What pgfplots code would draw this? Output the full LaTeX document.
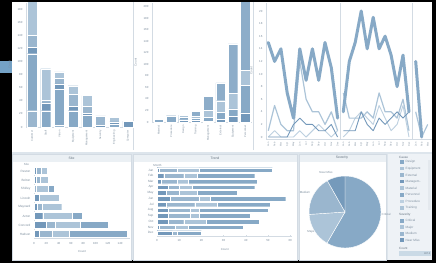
\documentclass[border=0pt]{standalone}
\usepackage{fontspec}
\setmainfont{Liberation Sans}
\usepackage{pgfplots}
\pgfplotsset{compat=1.18}

\definecolor{cDark}{HTML}{7398BA}
\definecolor{cMid}{HTML}{87A9C6}
\definecolor{cMidB}{HTML}{8DADC9}
\definecolor{cMidL}{HTML}{9AB6CE}
\definecolor{cLight}{HTML}{ACC4D8}
\definecolor{cPale}{HTML}{BDD0E0}
\definecolor{txt}{HTML}{7D8E9E}
\definecolor{axc}{HTML}{D3DBE3}
\definecolor{bgb}{HTML}{DDE5EC}
\definecolor{ttl}{HTML}{EBF0F4}
\definecolor{tab}{HTML}{74A2C6}
\definecolor{lgbg}{HTML}{EEF2F6}

\newcommand\tk{\fontsize{2.9}{3.3}\selectfont}
\newcommand\lgf{\fontsize{3.1}{3.5}\selectfont}
\newcommand\lb{\fontsize{3.4}{4}\selectfont}

\pgfplotsset{dash/.style={scale only axis, axis lines*=left,
  axis line style={draw=axc,line width=0.4pt},
  every tick/.style={draw=axc,line width=0.3pt}, major tick length=1.2pt,
  tick label style={font=\tk,text=txt},
  /pgf/number format/assume math mode=true,
  label style={font=\lb,text=txt}},
  sb/.style={draw=white,line width=0.2pt}}

\begin{document}
\begin{tikzpicture}
\useasboundingbox (0,0) rectangle (436pt,263pt);
\pgfmathsetmacro\tot{300+80+92+42}
\pgfmathsetmacro\aA{90-300/\tot*360}
\pgfmathsetmacro\aB{\aA-80/\tot*360}
\pgfmathsetmacro\aC{\aB-92/\tot*360}
\begin{scope}[x=1pt,y=1pt]
\fill[black] (0,0) rectangle (436,263);
\fill[white] (12,111) rectangle (431.5,260.5);
\fill[bgb] (12,3) rectangle (431.5,111);
\fill[tab] (0,190) rectangle (12,202);
\draw[axc,line width=0.8pt] (133.5,113) -- (133.5,260.5);
\draw[axc,line width=0.8pt] (253.5,113) -- (253.5,260.5);
% bottom panels
\foreach \a/\b in {12/131,133/297,299/386}{
  \fill[white] (\a,3) rectangle (\b,109);
  \fill[ttl] (\a,101) rectangle (\b,109);
  \draw[axc,line width=0.3pt] (\a,3) rectangle (\b,109);
}
\fill[lgbg] (388,3) rectangle (431.5,109);
\node[font=\lb,text=txt!80!black] at (71.5,105) {Site};
\node[font=\lb,text=txt!80!black] at (215,105) {Trend};
\node[font=\lb,text=txt!80!black] at (342,105) {Severity};
\node[font=\tk,text=txt,anchor=east] at (32.5,99) {Site};
\node[font=\tk,text=txt] at (157.5,98) {Month};
% legend
\node[font=\lgf,text=txt!80!black,anchor=west,inner sep=0] at (399,106) {Cause};
\foreach \n/\c [count=\i from 0] in {Design/cMid,Equipment/cLight,External/cMidL,Managem../cDark,Material/cLight,Personnel/cMid,Procedure/cPale,Training/cLight}{
  \fill[\c] (400,{101.3-6.6*\i-1.8}) rectangle (403.5,{101.3-6.6*\i+1.8});
  \node[font=\lgf,text=txt,anchor=west,inner sep=0] at (405.5,{101.3-6.6*\i}) {\n};
}
\fill[axc!60!white] (427.5,53) rectangle (430.5,103);
\node[font=\lgf,text=txt!80!black,anchor=west,inner sep=0] at (399,48) {Severity};
\foreach \n/\c [count=\i from 0] in {Critical/cMid,Major/cLight,Medium/cMidL,Near Miss/cDark}{
  \fill[\c] (400,{42.3-6.5*\i-1.8}) rectangle (403.5,{42.3-6.5*\i+1.8});
  \node[font=\lgf,text=txt,anchor=west,inner sep=0] at (405.5,{42.3-6.5*\i}) {\n};
}
\node[font=\lgf,text=txt!80!black,anchor=west,inner sep=0] at (399,15) {Count};
\fill[cPale!80!white] (399,7) rectangle (431,12);
\node[font=\fontsize{2.5}{2.8}\selectfont,text=txt!80!black,anchor=east,inner sep=0] at (430.5,9.5) {337.0};
% pie labels
\node[font=\tk,text=txt,anchor=west,inner sep=0] at (381.5,49) {Critical};
\node[font=\tk,text=txt] at (311,31) {Major};
\node[font=\tk,text=txt] at (305,71) {Medium};
\node[font=\tk,text=txt] at (326,91) {Near Miss};
\end{scope}

% ---------- Panel 1 ----------
\begin{axis}[dash, at={(26pt,136pt)}, anchor=south west, width=108pt, height=124.5pt,
  ybar stacked, bar width=10pt, xmin=-0.44, xmax=7.44, ymin=0, ymax=190,
  ytick={0,20,...,180}, xtick={0,...,7}, xtick style={draw=none},
  xticklabels={Customer,Staff,Vision,Equipment,Management,Security,Engineering,Computer},
  xticklabel style={rotate=90,anchor=east,font=\fontsize{2.6}{3}\selectfont},
  ylabel={Count}, ylabel style={font=\tk}]
\addplot[fill=cMidL,sb] coordinates {(0,25)(1,0)(2,3)(3,0)(4,0)(5,0)(6,0)(7,0)};
\addplot[fill=cMid,sb] coordinates {(0,87)(1,25)(2,55)(3,25)(4,18)(5,0)(6,4)(7,0)};
\addplot[fill=cDark,sb] coordinates {(0,10)(1,12)(2,8)(3,7)(4,3)(5,3)(6,4)(7,9)};
\addplot[fill=cMidL,sb] coordinates {(0,18)(1,4)(2,8)(3,18)(4,11)(5,14)(6,0)(7,0)};
\addplot[fill=cLight,sb] coordinates {(0,60)(1,48)(2,10)(3,13)(4,16)(5,0)(6,7)(7,0)};
\end{axis}

% ---------- Panel 2 ----------
\begin{axis}[dash, at={(152pt,141pt)}, anchor=south west, width=100pt, height=119.5pt,
  ybar stacked, bar width=9.5pt, xmin=-0.55, xmax=7.55, ymin=0, ymax=207.8,
  ytick={0,20,...,200}, xtick={0,...,7}, xtick style={draw=none},
  xticklabels={Material,Procedure,Design,Training,Management,External,Equipment,Personnel},
  xticklabel style={rotate=90,anchor=east,font=\fontsize{2.6}{3}\selectfont},
  ylabel={Count}, ylabel style={font=\tk}]
\addplot[fill=cDark,sb] coordinates {(0,0)(1,0)(2,4)(3,3)(4,2)(5,5)(6,10)(7,16)};
\addplot[fill=cMid,sb] coordinates {(0,5)(1,11)(2,4)(3,4)(4,6)(5,12)(6,13)(7,48)};
\addplot[fill=cLight,sb] coordinates {(0,0)(1,0)(2,4)(3,3)(4,12)(5,20)(6,27)(7,26)};
\addplot[fill=cMidB,sb] coordinates {(0,0)(1,0)(2,0)(3,9)(4,25)(5,31)(6,86)(7,125)};
\end{axis}

% ---------- Panel 3 ----------
\begin{axis}[dash, at={(266pt,124.1pt)}, anchor=south west, width=165.5pt, height=136.4pt,
  xmin=266, xmax=431.5, ymin=-0.3, ymax=21.35, ytick={0,2,...,20},
  xtick={268.3,274.6,280.9,287.2,293.5,299.8,306.1,312.4,318.7,325.0,331.3,337.6,343.3,349.3,355.2,361.2,367.2,373.2,379.1,385.1,391.1,397.1,403.0,409.0,415.7,421.7,427.7},
  xticklabels={Jan,Feb,Mar,Apr,May,Jun,Jul,Aug,Sep,Oct,Nov,Dec,Jan,Feb,Mar,Apr,May,Jun,Jul,Aug,Sep,Oct,Nov,Dec,Jan,Feb,Mar},
  xtick style={draw=none},
  xticklabel style={rotate=90,anchor=east,font=\fontsize{2.4}{2.7}\selectfont},
  ylabel={Count}, ylabel style={font=\tk}, clip=true]
\draw[axc,line width=0.5pt] (axis cs:340.5,-0.3) -- (axis cs:340.5,21.35);
\draw[axc,line width=0.5pt] (axis cs:412.4,-0.3) -- (axis cs:412.4,21.35);
% light lines
\addplot[cPale,line width=0.9pt,line join=round] coordinates {(268.3,0)(274.6,1)(280.9,0)(287.2,0)(293.5,0)(299.8,1)(306.1,0)(312.4,1)(318.7,2)(325.0,1)(331.3,0)(337.6,1)};
\addplot[cPale,line width=0.9pt,line join=round] coordinates {(343.3,0)(349.3,1)(355.2,3)(361.2,4)(367.2,3)(373.2,2)(379.1,5)(385.1,3)(391.1,1)(397.1,2)(403.0,5)(409.0,0)};
\addplot[cLight,line width=1.2pt,line join=round] coordinates {(268.3,1)(274.6,5)(280.9,2)(287.2,1)(293.5,1)(299.8,12)(306.1,6)(312.4,4)(318.7,4)(325.0,2)(331.3,4)(337.6,1)};
\addplot[cLight,line width=1.2pt,line join=round] coordinates {(343.3,7)(349.3,3)(355.2,3)(361.2,3)(367.2,4)(373.2,3)(379.1,7)(385.1,4)(391.1,4)(397.1,3)(403.0,6)(409.0,1)};
\addplot[cLight,line width=1.2pt,line join=round] coordinates {(415.7,4)(421.7,0)(427.7,2)};
\addplot[cDark,line width=0.9pt,line join=round] coordinates {(268.3,0)(274.6,0)(280.9,0)(287.2,0)(293.5,2)(299.8,3)(306.1,2)(312.4,2)(318.7,1)(325.0,1)(331.3,2)(337.6,0)};
\addplot[cDark,line width=0.9pt,line join=round] coordinates {(343.3,1)(349.3,1)(355.2,1)(361.2,4)(367.2,2)(373.2,1)(379.1,3)(385.1,2)(391.1,3)(397.1,4)(403.0,3)(409.0,4)};
% thick line
\addplot[cMid,line width=3pt,line join=round,line cap=round] coordinates {(268.3,15)(274.6,12)(280.9,14)(287.2,7)(293.5,3)(299.8,14)(306.1,9)(312.4,14)(318.7,9)(325.0,15)(331.3,11)(337.6,3)};
\addplot[cMid,line width=3pt,line join=round,line cap=round] coordinates {(343.3,4)(349.3,12)(355.2,15)(361.2,20)(367.2,14)(373.2,19)(379.1,14)(385.1,16)(391.1,13)(397.1,8)(403.0,13)(409.0,4)};
\addplot[cMid,line width=3pt,line join=round,line cap=round] coordinates {(415.7,12)(421.7,0)};
\end{axis}

% ---------- Site ----------
\begin{axis}[dash, at={(34pt,24.5pt)}, anchor=south west, width=96pt, height=72pt,
  xbar stacked, bar width=7pt, ymin=-0.5, ymax=7.5, xmin=0, xmax=156,
  xtick={0,20,...,140}, ytick={0,...,7}, ytick style={draw=none},
  yticklabels={Hudson,Concord,Acton,Maynard,Lincoln,Shirley,Bolton,Reston},
  yticklabel style={font=\lgf}, xlabel={Count}, xlabel style={font=\tk}]
\addplot[fill=cDark,sb] coordinates {(8,0)(20,1)(14,2)(5,3)(8,4)(0,5)(4,6)(3,7)};
\addplot[fill=cMidL,sb] coordinates {(22,0)(15,1)(0,2)(8,3)(0,4)(3,5)(6,6)(8,7)};
\addplot[fill=cLight,sb] coordinates {(27,0)(40,1)(48,2)(32,3)(33,4)(20,5)(13,6)(10,7)};
\addplot[fill=cMid,sb] coordinates {(94,0)(45,1)(16,2)(0,3)(0,4)(10,5)(0,6)(0,7)};
\end{axis}

% ---------- Trend ----------
\begin{axis}[dash, at={(157pt,27.2pt)}, anchor=south west, width=135.4pt, height=68.7pt,
  xbar stacked, bar width=4.6pt, ymin=-0.5, ymax=11.5, xmin=0, xmax=61,
  xtick={0,10,...,60}, ytick={0,...,11}, ytick style={draw=none},
  yticklabels={Dec,Nov,Oct,Sep,Aug,Jul,Jun,May,Apr,Mar,Feb,Jan},
  yticklabel style={font=\lgf}, xlabel={Count}, xlabel style={font=\tk}]
\addplot[fill=cDark,sb] coordinates {(7,0)(1,1)(5,2)(5,3)(5,4)(4,5)(6,6)(4,7)(5,8)(2,9)(3,10)(1,11)};
\addplot[fill=cMidL,sb] coordinates {(2,0)(7,1)(7,2)(10,3)(10,4)(13,5)(13,6)(6,7)(5,8)(7,9)(9,10)(8,11)};
\addplot[fill=cLight,sb] coordinates {(0,0)(6,1)(10,2)(4,3)(4,4)(10,5)(5,6)(8,7)(6,8)(5,9)(6,10)(10,11)};
\addplot[fill=cMid,sb] coordinates {(11,0)(25,1)(24,2)(23,3)(31,4)(24,5)(34,6)(18,7)(28,8)(31,9)(26,10)(33,11)};
\end{axis}

% ---------- Severity pie ----------
\begin{axis}[at={(309pt,15pt)}, anchor=south west, width=72pt, height=72pt, scale only axis,
  hide axis, xmin=-1, xmax=1, ymin=-1, ymax=1]
\fill[cMid,draw=white,line width=0.4pt] (axis cs:0,0) -- ++(90:36pt) arc[start angle=90,end angle=\aA,radius=36pt] -- cycle;
\fill[cLight,draw=white,line width=0.4pt] (axis cs:0,0) -- ++(\aA:36pt) arc[start angle=\aA,end angle=\aB,radius=36pt] -- cycle;
\fill[cMidL,draw=white,line width=0.4pt] (axis cs:0,0) -- ++(\aB:36pt) arc[start angle=\aB,end angle=\aC,radius=36pt] -- cycle;
\fill[cDark!90!cMid,draw=white,line width=0.4pt] (axis cs:0,0) -- ++(\aC:36pt) arc[start angle=\aC,end angle=-270,radius=36pt] -- cycle;
\end{axis}
\end{tikzpicture}
\end{document}
